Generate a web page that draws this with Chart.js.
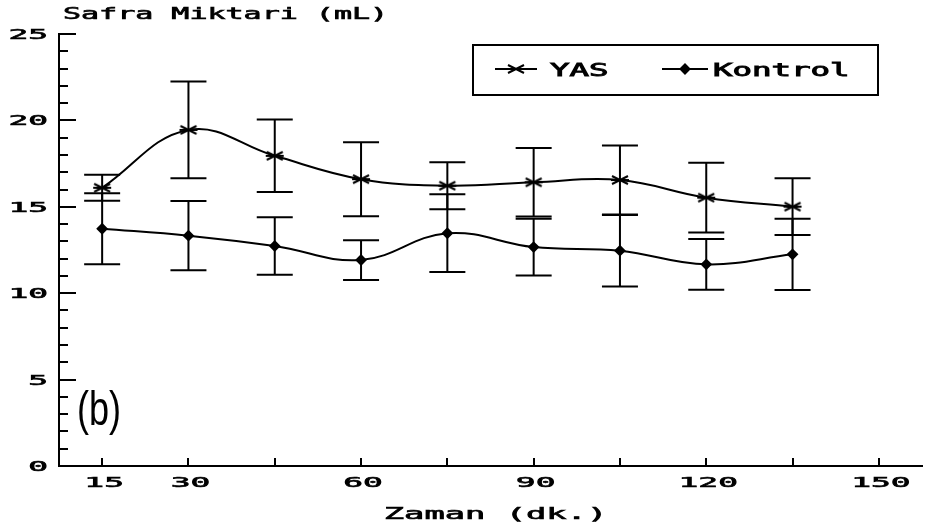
<!DOCTYPE html>
<html>
<head>
<meta charset="utf-8">
<script src="https://cdn.jsdelivr.net/npm/chart.js@4.4.1/dist/chart.umd.min.js"></script>
<style>
  html, body { margin: 0; padding: 0; background: #fff; }
</style>
</head>
<body>
<canvas id="safraChart" width="932" height="531"></canvas>
<script>
// sampling times (dk.) and bile volume (mL), mean and SD per group
const timePoints = [15, 30, 45, 60, 75, 90, 105, 120, 135];
const yasMean = [16.1, 19.45, 17.95, 16.6, 16.22, 16.42, 16.55, 15.53, 15.01];
const yasSd = [0.75, 2.8, 2.1, 2.14, 1.36, 1.98, 2.0, 2.02, 1.64];
const kontrolMean = [13.73, 13.33, 12.73, 11.92, 13.47, 12.67, 12.46, 11.67, 12.25];
const kontrolSd = [2.05, 2.0, 1.66, 1.15, 2.25, 1.64, 2.07, 1.47, 2.06];

const xTickValues = [15, 30, 45, 60, 75, 90, 105, 120, 135, 150];
const xTickLabels = ["15", "30", "", "60", "", "90", "", "120", "", "150"];
const yTickLabels = ["0", "5", "10", "15", "20", "25"];

const xTitle = "Zaman (dk.)";
const yTitle = "Safra Miktari (mL)";
const panelTag = "(b)";

const INK = "#000";

// flat asterisk used for the YAS points
function makeStarMarker() {
  const c = document.createElement("canvas");
  c.width = 20;
  c.height = 12;
  const g = c.getContext("2d");
  g.strokeStyle = INK;
  g.lineWidth = 2;
  g.beginPath();
  g.moveTo(2, 2); g.lineTo(18, 10);
  g.moveTo(2, 10); g.lineTo(18, 2);
  g.moveTo(1, 6); g.lineTo(19, 6);
  g.stroke();
  return c;
}
const starMarker = makeStarMarker();

// plotter-style lettering: monospace glyphs stretched sideways
function wideText(ctx, text, x, y, o) {
  ctx.save();
  ctx.font = o.font;
  ctx.fillStyle = INK;
  ctx.strokeStyle = INK;
  ctx.textBaseline = "alphabetic";
  ctx.textAlign = "left";
  const w = ctx.measureText(text).width * o.stretch;
  let left = x;
  if (o.align === "center") left = x - w / 2;
  if (o.align === "right") left = x - w;
  ctx.translate(left, y);
  ctx.scale(o.stretch, 1);
  ctx.fillText(text, 0, 0);
  if (o.weight) {
    ctx.lineWidth = o.weight;
    ctx.strokeText(text, 0, 0);
  }
  ctx.restore();
}

const MONO = "'DejaVu Sans Mono', 'Liberation Mono', monospace";
const tickFont = { font: "14px " + MONO, stretch: 2.35, weight: 0.6 };
const yTitleFont = { font: "15px " + MONO, stretch: 2.0, weight: 0.6 };
const xTitleFont = { font: "15px " + MONO, stretch: 2.25, weight: 0.6 };
const legendFont = { font: "18px " + MONO, stretch: 1.8, weight: 0.9 };

const errorBars = {
  id: "errorBars",
  afterDatasetsDraw(chart) {
    const { ctx, scales: { x, y } } = chart;
    const cap = 18;
    ctx.save();
    ctx.strokeStyle = INK;
    ctx.lineWidth = 2;
    chart.data.datasets.forEach((ds) => {
      ds.data.forEach((p, i) => {
        const px = x.getPixelForValue(p.x);
        const top = y.getPixelForValue(p.y + ds.sd[i]);
        const bot = y.getPixelForValue(p.y - ds.sd[i]);
        ctx.beginPath();
        ctx.moveTo(px, top); ctx.lineTo(px, bot);
        ctx.moveTo(px - cap, top); ctx.lineTo(px + cap, top);
        ctx.moveTo(px - cap, bot); ctx.lineTo(px + cap, bot);
        ctx.stroke();
      });
    });
    ctx.restore();
  },
};

const axisDecor = {
  id: "axisDecor",
  afterDraw(chart) {
    const { ctx, chartArea: a, scales: { x, y } } = chart;
    ctx.save();
    ctx.strokeStyle = INK;
    ctx.lineWidth = 2;

    // inward tick marks
    ctx.beginPath();
    y.ticks.forEach((t) => {
      const py = Math.round(y.getPixelForValue(t.value));
      const len = t.value % 5 === 0 ? 17 : 9;
      ctx.moveTo(a.left, py);
      ctx.lineTo(a.left + len, py);
    });
    x.ticks.forEach((t) => {
      const px = Math.round(x.getPixelForValue(t.value));
      ctx.moveTo(px, a.bottom);
      ctx.lineTo(px, a.bottom - 8);
    });
    ctx.stroke();
    ctx.restore();

    // tick labels
    y.ticks.forEach((t) => {
      if (t.value % 5 !== 0) return;
      const label = yTickLabels[t.value / 5];
      wideText(ctx, label, a.left - 11, y.getPixelForValue(t.value) + 5, { ...tickFont, align: "right" });
    });
    x.ticks.forEach((t, i) => {
      if (!xTickLabels[i]) return;
      wideText(ctx, xTickLabels[i], x.getPixelForValue(t.value) + 2, a.bottom + 21, { ...tickFont, align: "center" });
    });

    // axis titles
    wideText(ctx, yTitle, a.left + 4, 19, { ...yTitleFont, align: "left" });
    wideText(ctx, xTitle, (a.left + a.right) / 2 + 5, 519, { ...xTitleFont, align: "center" });

    // panel tag
    ctx.save();
    ctx.fillStyle = INK;
    ctx.font = "48px 'Liberation Sans'";
    ctx.textBaseline = "alphabetic";
    ctx.translate(a.left + 18, 425);
    ctx.scale(0.75, 1);
    ctx.fillText(panelTag, 0, 0);
    ctx.restore();

    // boxed legend
    const box = { left: a.right - 449, top: 45, width: 405, height: 50 };
    ctx.save();
    ctx.strokeStyle = INK;
    ctx.lineWidth = 2;
    ctx.strokeRect(box.left, box.top, box.width, box.height);
    const rowY = box.top + 24;
    const entries = [
      { x0: box.left + 22, x1: box.left + 64, text: box.left + 77 },
      { x0: box.left + 189, x1: box.left + 235, text: box.left + 240 },
    ];
    chart.data.datasets.forEach((ds, i) => {
      const e = entries[i];
      ctx.beginPath();
      ctx.moveTo(e.x0, rowY);
      ctx.lineTo(e.x1, rowY);
      ctx.stroke();
      Chart.helpers.drawPoint(ctx, {
        pointStyle: ds.pointStyle,
        radius: ds.pointRadius,
        borderWidth: 1,
        rotation: 0,
      }, (e.x0 + e.x1) / 2, rowY);
      ctx.fillStyle = INK;
      ctx.fill();
    });
    ctx.restore();
    chart.data.datasets.forEach((ds, i) => {
      wideText(ctx, ds.label, entries[i].text, rowY + 7, { ...legendFont, align: "left" });
    });
  },
};

new Chart(document.getElementById("safraChart"), {
  type: "line",
  data: {
    datasets: [
      {
        label: "YAS",
        data: timePoints.map((t, i) => ({ x: t, y: yasMean[i] })),
        sd: yasSd,
        borderColor: INK,
        backgroundColor: INK,
        borderWidth: 2,
        tension: 0.4,
        pointStyle: starMarker,
        pointRadius: 6,
      },
      {
        label: "Kontrol",
        data: timePoints.map((t, i) => ({ x: t, y: kontrolMean[i] })),
        sd: kontrolSd,
        borderColor: INK,
        backgroundColor: INK,
        borderWidth: 2,
        tension: 0.4,
        pointStyle: "rectRot",
        pointRadius: 4.5,
      },
    ],
  },
  options: {
    responsive: false,
    animation: false,
    layout: { padding: { left: 59, right: 10, top: 34, bottom: 65 } },
    plugins: {
      legend: { display: false },
      tooltip: { enabled: false },
    },
    scales: {
      x: {
        type: "linear",
        min: 7.5,
        max: 157.5,
        afterBuildTicks: (scale) => {
          scale.ticks = xTickValues.map((v) => ({ value: v }));
        },
        grid: { display: false, drawTicks: false },
        ticks: { display: false },
        border: { display: true, color: INK, width: 2 },
      },
      y: {
        min: 0,
        max: 25,
        ticks: { display: false, stepSize: 1 },
        grid: { display: false, drawTicks: false },
        border: { display: true, color: INK, width: 2 },
      },
    },
  },
  plugins: [errorBars, axisDecor],
});
</script>
</body>
</html>
